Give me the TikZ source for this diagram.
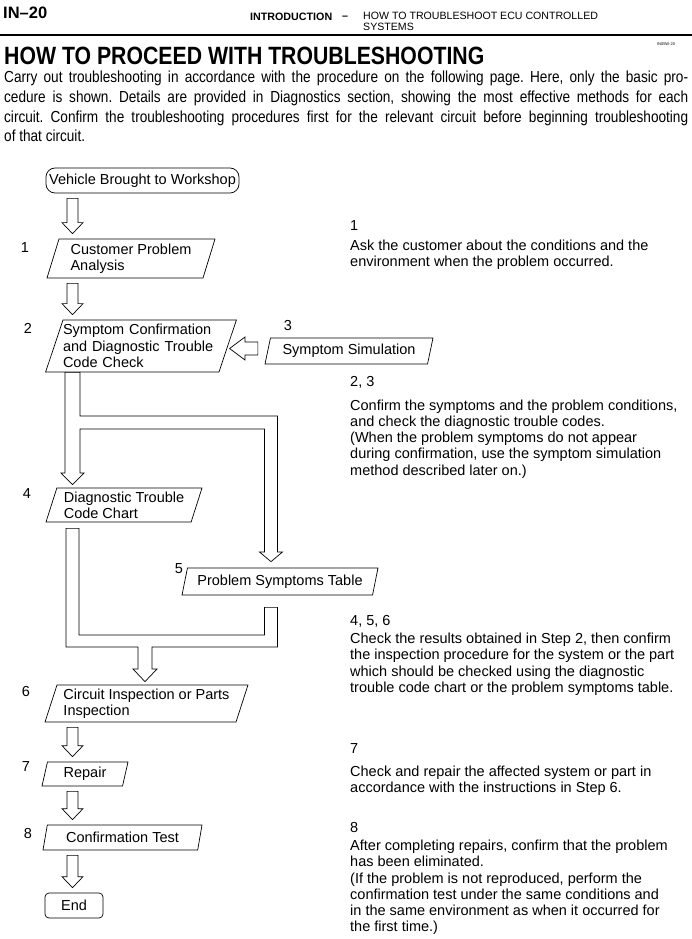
\documentclass[tikz,border=0pt]{standalone}
\usepackage{fontspec}
\setmainfont{Liberation Sans}
\newfontfamily\narrowfont[FakeStretch=0.85]{Liberation Sans}
\usetikzlibrary{positioning, shapes.geometric, calc}

\newcommand{\hollowdown}[2]{%
  \draw[hollow] ($(#1.south -| col)+(-5.5,5)$) -- ($(#2.north -| col)+(-5.5,-16)$)
    -- ++(-5,0) -- ($(#2.north -| col)+(0,-5)$) -- ++(10.5,-11) -- ++(-5,0)
    -- ($(#1.south -| col)+(5.5,5)$) -- cycle;}

\begin{document}
\begin{tikzpicture}[x=1pt, y=-1pt, font=\fontsize{14.5}{16.2}\selectfont]
		% Styles
		\tikzstyle{stepbox} = [draw, trapezium, trapezium left angle=68,
		trapezium right angle=112, trapezium stretches body, inner sep=0pt,
		align=left, line width=0.7pt]
		\tikzstyle{termbox} = [draw, rectangle, rounded corners=9pt,
		inner sep=0pt, line width=0.7pt]
		\tikzstyle{hollow} = [draw, fill=white, line width=0.7pt]
		\tikzstyle{numlabel} = [inner sep=0pt]
		\tikzstyle{notetext} = [anchor=north west, inner sep=0pt, align=left]
		
		\useasboundingbox (0,0) rectangle (692,939);
		
		% Header
		\node [anchor=west, inner sep=0pt, font=\bfseries\fontsize{16.5}{18}\selectfont] (page) at (3,13) {IN–20};
		\node [anchor=west, inner sep=0pt, font=\bfseries\fontsize{10.7}{12}\selectfont] (section) at (250,17) {INTRODUCTION};
		\node [anchor=west, inner sep=0pt, font=\bfseries\fontsize{10.7}{12}\selectfont] (dash) at (342,17.5) {–};
		\node [anchor=north west, inner sep=0pt, align=left, font=\fontsize{10.6}{11}\selectfont] (topic) at (363,12) {HOW TO TROUBLESHOOT ECU CONTROLLED\\SYSTEMS};
		\draw [line width=2pt] (0,35) -- (692,35);
		\node [font=\fontsize{4}{5}\selectfont] (code) at (666,44) {IN05W-20};
		\node [anchor=west, inner sep=0pt, font=\narrowfont\bfseries\fontsize{25}{28}\selectfont] (title) at (4,56) {HOW TO PROCEED WITH TROUBLESHOOTING};
		\node [anchor=north west, inner sep=0pt, text width=684pt, align=justify,
		font=\narrowfont\fontsize{16}{19.7}\selectfont] (intro) at (4,71)
		{\frenchspacing\hyphenpenalty=10000 Carry out troubleshooting in accordance with the procedure on the following page. Here, only the basic pro-\linebreak cedure is shown. Details are provided in Diagnostics section, showing the most effective methods for each\linebreak circuit. Confirm the troubleshooting procedures first for the relevant circuit before beginning troubleshooting\linebreak of that circuit.};
		
		% Nodes
		\coordinate (col) at (72.5,0);
		\coordinate (colr) at (271,0);
		\coordinate (colm) at (145,0);
		\node [termbox, minimum width=193pt, minimum height=25pt] (start) at (142.5,180.5) {Vehicle Brought to Workshop};
		\node [stepbox, minimum width=168pt, minimum height=39pt] (cpa) at (131,258.5) {Customer Problem\\Analysis};
		\node [stepbox, minimum width=188pt, minimum height=52pt, text width=156pt] (sym) at (141,346) {Symptom Confirmation\\and Diagnostic Trouble\\Code Check};
		\node [stepbox, minimum width=168pt, minimum height=26pt, align=center] (sim) at (349,351) {Symptom Simulation};
		\node [stepbox, minimum width=156pt, minimum height=34pt] (dtc) at (124,505) {Diagnostic Trouble\\Code Chart};
		\node [stepbox, minimum width=196pt, minimum height=27pt, align=center] (pst) at (280,581.5) {Problem Symptoms Table};
		\node [stepbox, minimum width=203pt, minimum height=37pt] (cip) at (146.5,703.5) {Circuit Inspection or Parts\\Inspection};
		\node [stepbox, minimum width=86pt, minimum height=24pt, align=center] (rep) at (85,774) {Repair};
		\node [stepbox, minimum width=159pt, minimum height=25pt, align=center] (ct) at (122.5,837.5) {Confirmation Test};
		\node [termbox, rounded corners=4pt, minimum width=58pt, minimum height=25pt] (end) at (74,905.5) {End};
		
		% Step numbers
		\node [numlabel] (num1) at (25,248) {1};
		\node [numlabel] (num2) at (28,328) {2};
		\node [numlabel] (num3) at (288,326) {3};
		\node [numlabel] (num4) at (27,494) {4};
		\node [numlabel] (num5) at (179,569) {5};
		\node [numlabel] (num6) at (26,692) {6};
		\node [numlabel] (num7) at (26,767) {7};
		\node [numlabel] (num8) at (28,833) {8};
		
		% Notes
		\node [numlabel, anchor=base west] (note1) at (350,230) {1};
		\node [notetext] (text1) at (350,240) {Ask the customer about the conditions and the\\environment when the problem occurred.};
		\node [numlabel, anchor=base west] (note23) at (350,386) {2, 3};
		\node [notetext] (text23) at (350,399.5) {Confirm the symptoms and the problem conditions,\\and check the diagnostic trouble codes.\\(When the problem symptoms do not appear\\during confirmation, use the symptom simulation\\method described later on.)};
		\node [numlabel, anchor=base west] (note456) at (350,625) {4, 5, 6};
		\node [notetext] (text456) at (350,633) {Check the results obtained in Step 2, then confirm\\the inspection procedure for the system or the part\\which should be checked using the diagnostic\\trouble code chart or the problem symptoms table.};
		\node [numlabel, anchor=base west] (note7) at (350,753) {7};
		\node [notetext] (text7) at (350,766) {Check and repair the affected system or part in\\accordance with the instructions in Step 6.};
		\node [numlabel, anchor=base west] (note8) at (350,832) {8};
		\node [notetext] (text8) at (350,840) {After completing repairs, confirm that the problem\\has been eliminated.\\(If the problem is not reproduced, perform the\\confirmation test under the same conditions and\\in the same environment as when it occurred for\\the first time.)};
		
		% Connections
		\hollowdown{start}{cpa}
		\hollowdown{cpa}{sym}
		\draw [hollow] ($(sim.west)+(-9.5,-9)$) -- (245,342) -- (245,337) -- ($(sym.east)+(1.5,2.5)$)
		-- (245,360) -- (245,355) -- ($(sim.west)+(-9.5,4)$) -- cycle;
		\draw [hollow] ($(sym.south -| col)+(-7.5,0)$) -- (65,473) -- (61,473) -- ($(dtc.north -| col)+(0,-3)$)
		-- (84,473) -- (80,473) -- (80,429) -- (264.5,429) -- (264.5,552) -- (259.5,552)
		-- ($(pst.north -| colr)+(0,-6)$) -- (282.5,552) -- (277.5,552) -- (277.5,416) -- (80,416)
		-- ($(sym.south -| col)+(7.5,0)$) -- cycle;
		\draw [hollow] ($(dtc.south -| col)+(-6.5,6)$) -- (66,647) -- (138,647) -- (138,669) -- (133,669)
		-- ($(cip.north -| colm)+(0,-3)$) -- (157,669) -- (152,669) -- (152,647) -- (277.5,647)
		-- ($(pst.south -| colr)+(6.5,12)$) -- ($(pst.south -| colr)+(-6.5,12)$) -- (264.5,635) -- (79,635)
		-- ($(dtc.south -| col)+(6.5,6)$) -- cycle;
		\hollowdown{cip}{rep}
		\hollowdown{rep}{ct}
		\hollowdown{ct}{end}
	\end{tikzpicture}
\end{document}
